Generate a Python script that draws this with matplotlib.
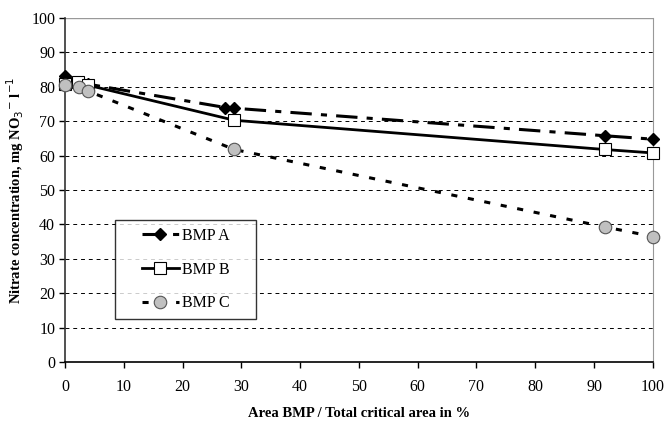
import numpy as np
import matplotlib.pyplot as plt
from matplotlib.lines import Line2D
from matplotlib.legend_handler import HandlerLine2D

plt.rcParams['font.family'] = ['Liberation Serif', 'DejaVu Serif']

# data
x_a = [0, 2.2, 3.9, 27.3, 28.8, 91.8, 100]
y_a = [83.2, 81.5, 80.8, 74.0, 73.8, 65.8, 64.8]

x_b = [0, 2.2, 3.9, 28.8, 91.8, 100]
y_b = [80.8, 81.5, 80.5, 70.3, 61.8, 60.8]

x_c = [0, 2.4, 3.9, 28.8, 91.8, 100]
y_c = [80.5, 80.0, 78.8, 61.8, 39.3, 36.5]

x_ticks = np.arange(0, 101, 10)
y_ticks = np.arange(0, 101, 10)


def main():
    fig = plt.figure(figsize=(6.65, 4.21), dpi=100)
    ax = fig.add_axes([0.0977, 0.140, 0.884, 0.817])

    # horizontal grid lines
    for v in y_ticks[1:-1]:
        ax.axhline(v, color='black', linestyle=(0, (4, 4)), linewidth=0.7, zorder=1)
    ax.axhline(100, color='#999999', linewidth=1.0, zorder=1)

    ax.plot(x_a, y_a, color='black', linewidth=2.2, linestyle=(0, (7, 3, 2, 3)),
            marker='D', markersize=6, markerfacecolor='black', markeredgecolor='black',
            label='BMP A', zorder=3, clip_on=False)
    ax.plot(x_b, y_b, color='black', linewidth=2.0, linestyle='-',
            marker='s', markersize=8, markerfacecolor='white', markeredgecolor='black',
            markeredgewidth=0.8, label='BMP B', zorder=4, clip_on=False)
    ax.plot(x_c, y_c, color='black', linewidth=2.2, linestyle=(0, (2, 3.5)),
            marker='o', markersize=9, markerfacecolor='#c0c0c0', markeredgecolor='#555555',
            markeredgewidth=0.8, label='BMP C', zorder=5, clip_on=False)

    ax.set_xlim(0, 100)
    ax.set_ylim(0, 100)
    ax.set_xticks(x_ticks)
    ax.set_yticks(y_ticks)
    ax.tick_params(direction='out', length=4, width=1, labelsize=11.5)
    ax.tick_params(axis='x', pad=8)
    ax.tick_params(axis='y', pad=3)

    ax.spines['top'].set_visible(False)
    ax.spines['right'].set_color('#999999')
    ax.spines['left'].set_color('#333333')
    ax.spines['left'].set_linewidth(1.2)
    ax.spines['bottom'].set_linewidth(1.2)

    ax.set_xlabel('Area BMP / Total critical area in %', fontsize=10.5, fontweight='bold', labelpad=9)
    ax.set_ylabel('Nitrate concentration, mg NO$_3$$^{-}$ l$^{-1}$', fontsize=10.5,
                  fontweight='bold', labelpad=4)

    # legend box sized like the original (Excel style, extra room on both sides)
    leg = ax.legend(loc='upper left', bbox_to_anchor=(0.085, 0.0, 0.24, 0.413),
                    mode='expand', fontsize=11.5,
                    frameon=True, fancybox=False, shadow=False, handlelength=3.5,
                    labelspacing=1.1, borderpad=0.5, handletextpad=0.2,
                    borderaxespad=0, handler_map={Line2D: HandlerLine2D(xpad=1.2)})
    leg.get_frame().set_edgecolor('black')
    leg.get_frame().set_linewidth(1.0)
    leg.set_zorder(6)

    fig.savefig('out.png', dpi=100)


if __name__ == '__main__':
    main()
